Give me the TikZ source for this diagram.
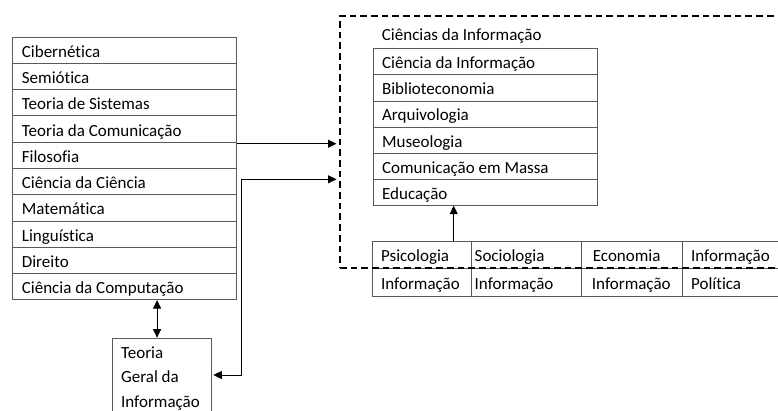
\documentclass[tikz,border=0pt]{standalone}
\usepackage{fontspec}
\setmainfont{Carlito}[Ligatures=NoCommon]
\usetikzlibrary{arrows.meta}
\definecolor{rulegray}{gray}{0.35}
\begin{document}
\begin{tikzpicture}[x=1pt,y=-1pt,
  font=\fontsize{17}{20}\selectfont,
  plainspace/.style={execute at begin node={\spaceskip=0pt\xspaceskip=0pt\relax}},
  box/.style={draw=rulegray, line width=0.8pt, anchor=north west, inner ysep=0pt,
    align=left, text height=16pt, text depth=2pt, plainspace},
  lcell/.style={box, inner xsep=9.5pt, text width=205pt, minimum height=26.26pt},
  rcell/.style={box, inner xsep=9pt, text width=206pt, minimum height=26.1pt},
  bcell/.style={box, minimum height=27.6pt},
  conn/.style={draw=black, line width=0.9pt},
  tip/.tip={Triangle[length=8.5pt,width=8pt]},
  scope/.style={draw=black, line width=1.6pt, dash pattern=on 6.7pt off 4pt,
    anchor=north west, inner sep=0pt, minimum width=460pt, minimum height=252pt}]
\useasboundingbox (0,0) rectangle (778,410);
\clip (0,0) rectangle (778,410);

% source disciplines
\foreach \txt [count=\i] in {Cibernética,Semiótica,Teoria de Sistemas,
    Teoria da Comunicação,Filosofia,Ciência da Ciência,Matemática,
    Linguística,Direito,Ciência da Computação}
  \node[lcell] (l\i) at (12,{36.7+26.26*(\i-1)}) {\txt};

% information sciences
\node[anchor=base west, inner sep=0pt] (ttl) at (381.7,40.3) {Ciências da Informação};
\foreach \txt [count=\i] in {Ciência da Informação,Biblioteconomia,Arquivologia,
    Museologia,Comunicação em Massa,Educação}
  \node[rcell] (r\i) at (372.7,{48.3+26.1*(\i-1)}) {\txt};

% related fields (two rows)
\node[bcell, inner xsep=9pt,   text width=81.3pt]  (b11) at (371.7,240.7) {Psicologia};
\node[bcell, inner xsep=3.3pt, text width=103.4pt] (b12) at (471,240.7)   {Sociologia};
\node[bcell, inner xsep=11.5pt,text width=77.7pt]  (b13) at (581,240.7)   {Economia};
\node[bcell, inner xsep=9pt,   text width=77.8pt]  (b14) at (681.7,240.7) {Informação};
\node[bcell, inner xsep=9pt,   text width=81.3pt]  (b21) at (371.7,268.3) {Informação};
\node[bcell, inner xsep=3.3pt, text width=103.4pt] (b22) at (471,268.3)   {Informação};
\node[bcell, inner xsep=10.5pt,text width=79.7pt]  (b23) at (581,268.3)   {Informação};
\node[bcell, inner xsep=9pt,   text width=77.8pt]  (b24) at (681.7,268.3) {Política};

% general information theory
\node[draw=rulegray, line width=0.8pt, anchor=north west, inner xsep=9pt, inner ysep=0pt,
  align=left, text width=81.3pt, plainspace, font=\fontsize{17}{24.5}\selectfont]
  (tg) at (111.7,337.7)
  {\rule{0pt}{20.3pt}Teoria\\Geral da\\Informação\rule[-12pt]{0pt}{12pt}};

% dashed frame around the information sciences
\node[scope] (ci) at (339,15) {};

% connectors
\path ([yshift=-2pt]l5.north east) coordinate (f1);
\draw[conn, -tip, shorten >=2.5pt] (f1) -- (f1 -| ci.west);

\coordinate (bend) at (241.5,179.3);
\path ([yshift=-37.3pt]tg.north east) coordinate (t1);
\draw[conn, tip-tip, shorten <=1.5pt, shorten >=2.5pt] (t1) -| (bend) -- (bend -| ci.west);

\path ([xshift=-4.7pt]tg.north) coordinate (t2);
\draw[conn, tip-tip] (t2) -- (t2 |- l10.south);

\path ([xshift=-31.4pt]r6.south) coordinate (e1);
\draw[conn, -tip] (e1 |- b11.north) -- (e1);
\end{tikzpicture}
\end{document}
